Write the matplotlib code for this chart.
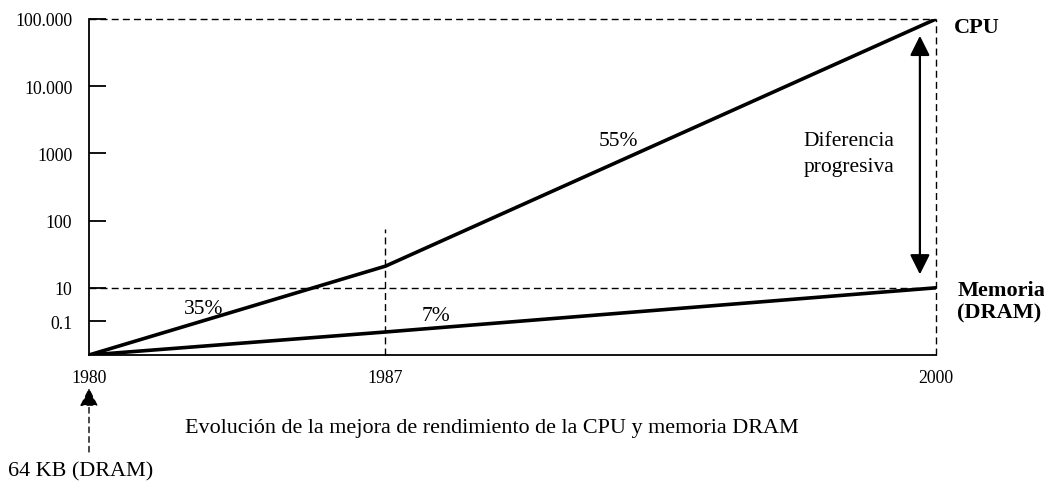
import matplotlib
matplotlib.use("Agg")
import matplotlib.pyplot as plt

plt.rcParams['font.family'] = ['Liberation Serif', 'DejaVu Serif']

# datos (escala logarítmica esquemática)
anios = [1980, 1987, 2000]
cpu = [1, 21, 100000]
memoria = [1, 2.2, 10]
y_ticks = [10 ** 0.5, 10, 100, 1000, 10000, 100000]
y_labels = ['0.1', '10', '100', '1000', '10.000', '100.000']
x_ticks = [1980, 1987, 2000]

fig = plt.figure(figsize=(10.44, 4.85), dpi=100)
ax = fig.add_axes([89 / 1044, 1 - 356 / 485, (936 - 89) / 1044, (356 - 20) / 485])

ax.set_yscale('log')
ax.set_xlim(1980, 2000)
ax.set_ylim(1, 100000)

ax.plot(anios, cpu, color='black', lw=2.6, zorder=3)
ax.plot(anios, memoria, color='black', lw=2.6, zorder=3)

# líneas auxiliares discontinuas
dash = dict(color='black', lw=1.0, ls=(0, (5, 3)), clip_on=False)
ax.axhline(10, **dash)
ax.axhline(100000, **dash)
ax.axvline(2000, **dash)
ax.plot([1987, 1987], [1, 75], **dash)

# flecha doble
ax.annotate('', xy=(1999.62, 10 ** 4.75), xytext=(1999.62, 10 ** 1.2),
            arrowprops=dict(arrowstyle='<|-|>', color='black', lw=1.6,
                            mutation_scale=30, shrinkA=0, shrinkB=0))

ax.spines['top'].set_visible(False)
ax.spines['right'].set_visible(False)
ax.spines['left'].set_linewidth(1.3)
ax.spines['bottom'].set_linewidth(1.3)

ax.set_yticks(y_ticks)
ax.set_yticklabels(y_labels)
ax.minorticks_off()
ax.tick_params(axis='y', direction='in', length=12, width=1.3, labelsize=12.8, pad=12)
ax.set_xticks(x_ticks)
ax.set_xticklabels([str(a) for a in x_ticks])
ax.tick_params(axis='x', length=0, labelsize=12.8, pad=10)

ax.text(1992.5, 10 ** 3.19, '55%', fontsize=15.5, ha='center', va='center')
ax.text(1982.7, 10 ** 0.69, '35%', fontsize=15.5, ha='center', va='center')
ax.text(1988.2, 10 ** 0.59, '7%', fontsize=15.5, ha='center', va='center')
ax.text(1997.95, 10 ** 3.0, 'Diferencia\nprogresiva', fontsize=15.5, ha='center',
        va='center', multialignment='center', linespacing=1.45)

ax.text(2000.42, 10 ** 4.88, 'CPU', fontsize=16, fontweight='bold', ha='left', va='center')
ax.text(2000.5, 10 ** 0.8, 'Memoria\n(DRAM)', fontsize=16, fontweight='bold', ha='left',
        va='center', linespacing=1.15)

fig.text(492 / 1044, 1 - 429 / 485,
         'Evolución de la mejora de rendimiento de la CPU y memoria DRAM',
         fontsize=15.9, ha='center', va='center')
fig.text(81 / 1044, 1 - 472 / 485, '64 KB (DRAM)', fontsize=15.9, ha='center', va='center')
fig.add_artist(matplotlib.patches.FancyArrowPatch(
    (89 / 1044, 1 - 453 / 485), (89 / 1044, 1 - 389 / 485), transform=fig.transFigure,
    arrowstyle='-|>', mutation_scale=28, color='black', lw=1.0, ls=(0, (4, 3)),
    shrinkA=0, shrinkB=0))

fig.savefig('out.png', dpi=100)
